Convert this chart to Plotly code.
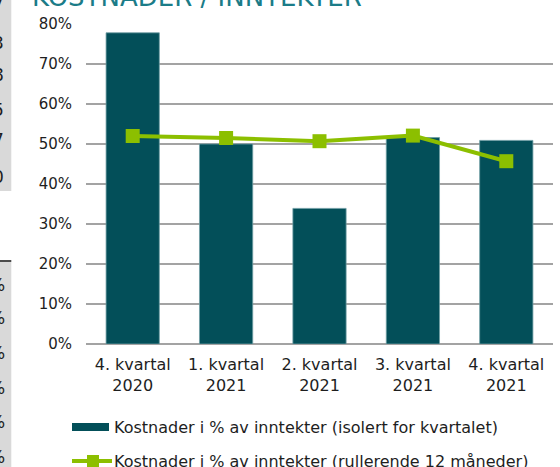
import plotly.graph_objects as go

# ---- data ----
categories = ["4. kvartal<br>2020", "1. kvartal<br>2021", "2. kvartal<br>2021",
              "3. kvartal<br>2021", "4. kvartal<br>2021"]
isolert = [77.8, 50.0, 33.9, 51.6, 50.9]
rullerende = [52.0, 51.5, 50.7, 52.1, 45.7]
y_ticks = [0, 10, 20, 30, 40, 50, 60, 70, 80]
y_tick_labels = [f"{v}%" for v in y_ticks]
legend_labels = ["Kostnader i % av inntekter (isolert for kvartalet)",
                 "Kostnader i % av inntekter (rullerende 12 måneder)"]
title_text = "KOSTNADER / INNTEKTER"
left_fragments_top = ["7", "3", "8", "5", "7", "0"]
left_fragments_bottom = ["%", "%", "%", "%", "%", "%"]

BAR = "#034f59"
GREEN = "#8cbf00"
GRID = "#a3a3a3"
TXT = "#1e1e1e"
FONT = "DejaVu Sans"

W_FIG, H_FIG = 560, 467
L, R, T, B = 86, 7, 24, 123
PW = W_FIG - L - R
PH = H_FIG - T - B


def px(x):
    return (x - L) / PW


def py(y):
    return (H_FIG - B - y) / PH


fig = go.Figure()
fig.add_trace(go.Bar(
    x=categories, y=isolert, name=legend_labels[0],
    marker=dict(color=BAR, line=dict(color="#6f9da3", width=0.8)),
    width=0.57, showlegend=False,
))
fig.add_trace(go.Scatter(
    x=categories, y=rullerende, name=legend_labels[1], mode="lines+markers",
    line=dict(color=GREEN, width=4),
    marker=dict(symbol="square", size=14, color=GREEN),
    showlegend=False,
))

shapes = []
annotations = []

# manual legend
shapes.append(dict(type="rect", xref="paper", yref="paper",
                   x0=px(72), x1=px(109), y0=py(431), y1=py(423),
                   fillcolor=BAR, line=dict(width=0)))
shapes.append(dict(type="line", xref="paper", yref="paper",
                   x0=px(72), x1=px(112), y0=py(461), y1=py(461),
                   line=dict(color=GREEN, width=4)))
shapes.append(dict(type="rect", xref="paper", yref="paper",
                   x0=px(87), x1=px(99), y0=py(467), y1=py(455),
                   fillcolor=GREEN, line=dict(width=0)))
for i, (lab, yy) in enumerate(zip(legend_labels, [427, 461])):
    annotations.append(dict(text=lab, xref="paper", yref="paper",
                            x=px(112), y=py(yy), xanchor="left", yanchor="middle",
                            showarrow=False, font=dict(family=FONT, size=16, color=TXT)))

# cropped title at top
annotations.append(dict(text=title_text, xref="paper", yref="paper",
                        x=px(30), y=py(14), xanchor="left", yanchor="bottom",
                        showarrow=False,
                        font=dict(family=FONT, size=26, color="#1b7c88")))

# neighbouring panel fragments at the left edge
shapes.append(dict(type="rect", xref="paper", yref="paper",
                   x0=px(-2), x1=px(11.3), y0=py(191), y1=py(-2),
                   fillcolor="#d9d9d9", line=dict(width=0), layer="below"))
shapes.append(dict(type="rect", xref="paper", yref="paper",
                   x0=px(-2), x1=px(11.3), y0=py(470), y1=py(262),
                   fillcolor="#d9d9d9", line=dict(width=0), layer="below"))
shapes.append(dict(type="line", xref="paper", yref="paper",
                   x0=px(-2), x1=px(11.3), y0=py(261), y1=py(261),
                   line=dict(color="#111111", width=1.5)))
for t, yy in zip(left_fragments_top, [4, 43, 75, 110, 140, 177]):
    annotations.append(dict(text=t, xref="paper", yref="paper", x=px(6), y=py(yy),
                            xanchor="right", yanchor="middle", showarrow=False,
                            font=dict(family=FONT, size=17, color=TXT)))
for t, yy in zip(left_fragments_bottom, [285, 318, 353, 388, 422, 457]):
    annotations.append(dict(text=t, xref="paper", yref="paper", x=px(7), y=py(yy),
                            xanchor="right", yanchor="middle", showarrow=False,
                            font=dict(family=FONT, size=17, color=TXT)))

fig.update_layout(
    width=W_FIG, height=H_FIG,
    margin=dict(l=L, r=R, t=T, b=B, autoexpand=False),
    paper_bgcolor="white", plot_bgcolor="white",
    font=dict(family=FONT, size=15, color=TXT),
    showlegend=False,
    bargap=0.43,
    shapes=shapes,
    annotations=annotations,
)
fig.update_xaxes(
    type="category", range=[-0.5, 4.5], showgrid=False,
    showline=False, ticks="outside", ticklen=6, tickcolor="rgba(0,0,0,0)",
    tickfont=dict(family=FONT, size=16, color=TXT), automargin=False,
)
fig.update_yaxes(
    range=[0, 80], tickvals=y_ticks, ticktext=y_tick_labels,
    showgrid=True, gridcolor=GRID, gridwidth=1.6,
    zeroline=True, zerolinecolor=GRID, zerolinewidth=1.6,
    showline=False, ticks="outside", ticklen=10, tickcolor="rgba(0,0,0,0)",
    tickfont=dict(family=FONT, size=15, color=TXT), automargin=False,
)

fig.write_html(
    "out.html",
    config={"displayModeBar": False},
    post_script="document.body.style.margin='0';document.body.style.overflow='hidden';",
)
